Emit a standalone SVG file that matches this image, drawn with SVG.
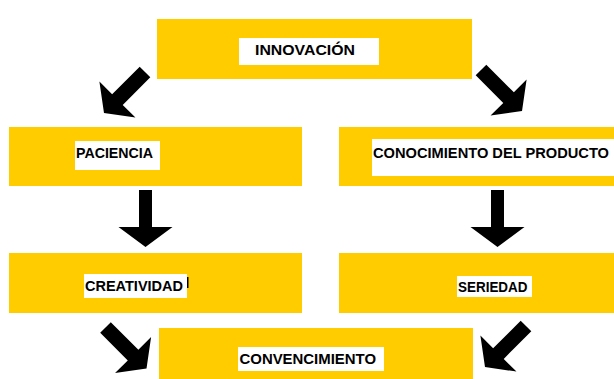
<svg xmlns="http://www.w3.org/2000/svg" width="614" height="379" viewBox="0 0 614 379">
  <defs>
    <style>
      .box { fill: #FFCC00; }
      .lbl { fill: #FFFFFF; }
      .txt { font-family: "Liberation Sans", Arial, sans-serif; font-weight: bold; font-size: 15px; fill: #000000; }
      .arr { fill: #000000; }
    </style>
    <path id="diag" d="M0,-7.5 H39 V-25.5 L58,0 L39,25.5 V7.5 H0 Z"/>
    <path id="down" d="M-6.5,0 H6.5 V37 H27 L0,57 L-27,37 H-6.5 Z"/>
  </defs>
  <rect width="614" height="379" fill="#FFFFFF"/>

  <g id="innovacion">
    <rect class="box" x="157" y="19" width="315" height="60"/>
    <rect class="lbl" x="239" y="38" width="140" height="27"/>
    <text class="txt" x="255" y="55" textLength="100" lengthAdjust="spacingAndGlyphs">INNOVACIÓN</text>
  </g>

  <g id="paciencia">
    <rect class="box" x="9" y="127" width="293" height="59"/>
    <rect class="lbl" x="75" y="141" width="85" height="29"/>
    <text class="txt" x="76" y="157.5" textLength="77" lengthAdjust="spacingAndGlyphs">PACIENCIA</text>
  </g>

  <g id="conocimiento">
    <rect class="box" x="339" y="127" width="275" height="59"/>
    <rect class="lbl" x="372" y="139" width="242" height="37"/>
    <text class="txt" x="373" y="157.5" textLength="236" lengthAdjust="spacingAndGlyphs">CONOCIMIENTO DEL PRODUCTO</text>
  </g>

  <g id="creatividad">
    <rect class="box" x="9" y="253" width="293" height="60"/>
    <rect class="lbl" x="84" y="274" width="103" height="24"/>
    <text class="txt" x="85" y="290.5" textLength="98" lengthAdjust="spacingAndGlyphs">CREATIVIDAD</text>
    <rect x="187" y="277" width="1.5" height="11" fill="#000000"/>
  </g>

  <g id="seriedad">
    <rect class="box" x="339" y="253" width="275" height="60"/>
    <rect class="lbl" x="457" y="276" width="75" height="21"/>
    <text class="txt" x="458" y="291.5" textLength="69.5" lengthAdjust="spacingAndGlyphs">SERIEDAD</text>
  </g>

  <g id="convencimiento">
    <rect class="box" x="159" y="328" width="314" height="51"/>
    <rect class="lbl" x="238" y="347" width="146" height="24"/>
    <text class="txt" x="239.5" y="363.5" textLength="136.5" lengthAdjust="spacingAndGlyphs">CONVENCIMIENTO</text>
  </g>

  <g id="connectors" class="arr">
    <use href="#diag" transform="translate(145,72) rotate(135)"/>
    <use href="#diag" transform="translate(481,70) rotate(45)"/>
    <use href="#down" transform="translate(145.5,190)"/>
    <use href="#down" transform="translate(497.5,190)"/>
    <use href="#diag" transform="translate(105.5,327.5) rotate(45)"/>
    <use href="#diag" transform="translate(526,326) rotate(135)"/>
  </g>
</svg>
